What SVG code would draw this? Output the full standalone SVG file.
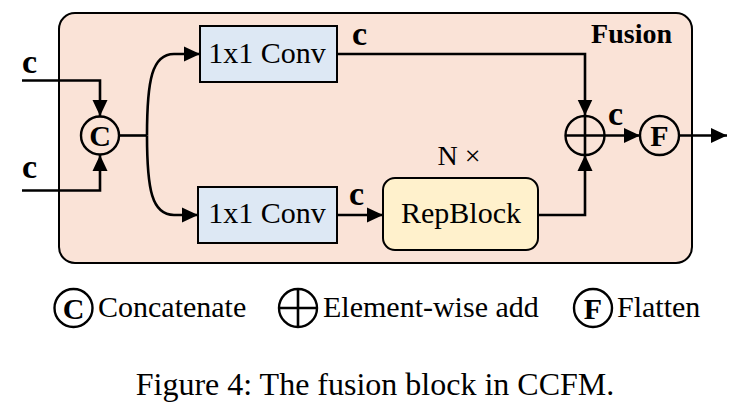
<svg xmlns="http://www.w3.org/2000/svg" width="753" height="420" viewBox="0 0 753 420">
<defs>
<marker id="ah" markerWidth="16" markerHeight="16" viewBox="0 0 16 16" refX="16" refY="8" orient="auto" markerUnits="userSpaceOnUse">
<path d="M0,0.5 L16,8 L0,15.5 Z" fill="#000"/>
</marker>
<style>
.t{font-family:"Liberation Serif","Times New Roman",serif;fill:#000}
.b{font-weight:bold}
.ln{fill:none;stroke:#000;stroke-width:2.6}
.ci{fill:none;stroke:#000;stroke-width:2.4}
.conv{fill:#dde8f4;stroke:#000;stroke-width:2}
</style>
</defs>
<rect id="fusion-bg" x="59" y="13" width="633" height="250" rx="16" fill="#fae3d7" stroke="#000" stroke-width="2"/>
<text class="t b" x="672" y="43" font-size="28" text-anchor="end">Fusion</text>

<g id="connectors">
<path class="ln" d="M22,80.5 H100 V116" marker-end="url(#ah)"/>
<path class="ln" d="M22,190.5 H100 V155" marker-end="url(#ah)"/>
<path class="ln" d="M119,135.5 H147"/>
<path class="ln" d="M147,135.5 C147,80 152,54 174,54 H200" marker-end="url(#ah)"/>
<path class="ln" d="M147,135.5 C147,190 152,215 174,215 H198" marker-end="url(#ah)"/>
<path class="ln" d="M337,54 H585 V115.5" marker-end="url(#ah)"/>
<path class="ln" d="M337,215 H383" marker-end="url(#ah)"/>
<path class="ln" d="M538,215 H585 V155" marker-end="url(#ah)"/>
<path class="ln" d="M605,135.5 H640" marker-end="url(#ah)"/>
<path class="ln" d="M679,135.5 H727" marker-end="url(#ah)"/>
<text class="t b" x="22" y="73" font-size="34">c</text>
<text class="t b" x="22" y="178" font-size="34">c</text>
<text class="t b" x="352" y="45" font-size="34">c</text>
<text class="t b" x="349" y="205" font-size="34">c</text>
<text class="t b" x="608" y="125" font-size="34">c</text>
</g>

<g id="concat">
<circle class="ci" cx="100" cy="135.5" r="19"/>
<text class="t b" x="100" y="146" font-size="30" text-anchor="middle">C</text>
</g>

<g id="conv1">
<rect class="conv" x="200" y="26" width="137" height="56"/>
<text class="t" x="267" y="63" font-size="30" text-anchor="middle">1x1 Conv</text>
</g>

<g id="conv2">
<rect class="conv" x="198" y="187" width="139" height="56"/>
<text class="t" x="267" y="223" font-size="30" text-anchor="middle">1x1 Conv</text>
</g>

<g id="repblock">
<text class="t" x="459" y="165" font-size="28" text-anchor="middle">N ×</text>
<rect x="383" y="178" width="155" height="72" rx="12" fill="#fff1cc" stroke="#000" stroke-width="2"/>
<text class="t" x="461" y="223" font-size="30" text-anchor="middle">RepBlock</text>
</g>

<g id="add">
<circle class="ci" cx="585" cy="135.5" r="19.5"/>
<path class="ln" d="M565.5,135.5 H604.5 M585,116 V155"/>
</g>

<g id="flatten">
<circle class="ci" cx="659.5" cy="135.5" r="19.5"/>
<text class="t b" x="659.5" y="146" font-size="30" text-anchor="middle">F</text>
</g>

<g id="legend">
<circle class="ci" cx="73.5" cy="308" r="19"/>
<text class="t b" x="73.5" y="318.5" font-size="30" text-anchor="middle">C</text>
<text class="t" x="98" y="317" font-size="30">Concatenate</text>
<circle class="ci" cx="298" cy="308" r="19"/>
<path class="ln" d="M279,308 H317 M298,289 V327"/>
<text class="t" x="323" y="317" font-size="30">Element-wise add</text>
<circle class="ci" cx="593" cy="308" r="19"/>
<text class="t b" x="593" y="318.5" font-size="30" text-anchor="middle">F</text>
<text class="t" x="617" y="317" font-size="30">Flatten</text>
</g>

<text class="t" x="375" y="395" font-size="32" text-anchor="middle">Figure 4: The fusion block in CCFM.</text>
</svg>
